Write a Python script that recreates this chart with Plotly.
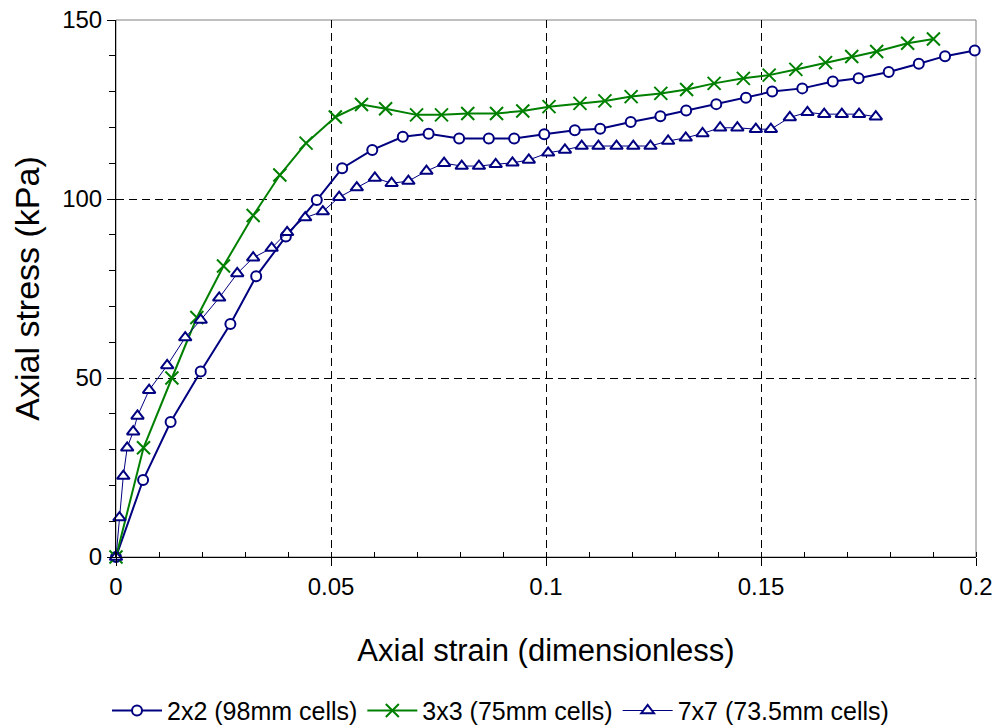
import plotly.graph_objects as go

# Axial strain / axial stress readings for the three cell configurations
strain_2x2 = [0, 0.0063, 0.0127, 0.0197, 0.0266, 0.0326, 0.0395, 0.0467, 0.0526, 0.0596,
              0.0667, 0.0727, 0.0798, 0.0867, 0.0926, 0.0996, 0.1067, 0.1126, 0.1197, 0.1266,
              0.1326, 0.1396, 0.1465, 0.1526, 0.1596, 0.1667, 0.1727, 0.1797, 0.1867, 0.1928, 0.1997]
stress_2x2 = [0, 21.5, 37.7, 51.8, 65.1, 78.4, 89.5, 99.7, 108.6, 113.7,
              117.4, 118.2, 116.9, 116.9, 116.9, 118.1, 119.2, 119.6, 121.5, 123.1,
              124.7, 126.5, 128.3, 130.0, 130.9, 132.8, 133.7, 135.5, 137.8, 139.9, 141.5]

strain_3x3 = [0, 0.0064, 0.0130, 0.0188, 0.0250, 0.0319, 0.0381, 0.0442, 0.0510, 0.0571,
              0.0627, 0.0699, 0.0757, 0.0818, 0.0885, 0.0946, 0.1007, 0.1079, 0.1137, 0.1198,
              0.1267, 0.1327, 0.1391, 0.1459, 0.1519, 0.1581, 0.1650, 0.1711, 0.1769, 0.1841, 0.1901]
stress_3x3 = [0, 30.5, 50.0, 66.9, 81.3, 95.4, 106.7, 115.6, 122.9, 126.4,
              125.2, 123.5, 123.5, 123.9, 123.9, 124.6, 125.8, 126.7, 127.4, 128.6,
              129.5, 130.6, 132.3, 133.7, 134.6, 136.2, 138.1, 139.8, 141.2, 143.5, 144.7]

strain_7x7 = [0, 0.0008, 0.0017, 0.0026, 0.0040, 0.0050, 0.0077, 0.0119, 0.0161, 0.0197,
              0.0240, 0.0282, 0.0319, 0.0362, 0.0398, 0.0440, 0.0481, 0.0519, 0.0560, 0.0602,
              0.0641, 0.0680, 0.0722, 0.0763, 0.0804, 0.0844, 0.0883, 0.0922, 0.0960, 0.1005,
              0.1044, 0.1083, 0.1122, 0.1164, 0.1203, 0.1243, 0.1284, 0.1325, 0.1364, 0.1405,
              0.1445, 0.1488, 0.1523, 0.1567, 0.1608, 0.1647, 0.1688, 0.1728, 0.1767]
stress_7x7 = [0, 11.0, 22.6, 30.5, 35.0, 39.4, 46.6, 53.5, 61.3, 66.2,
              72.4, 79.2, 83.6, 86.3, 90.7, 94.8, 96.5, 100.5, 103.2, 105.9,
              104.4, 105.0, 107.8, 110.0, 109.2, 109.2, 109.7, 110.1, 110.9, 112.9,
              113.7, 114.8, 114.8, 114.8, 114.8, 114.8, 116.2, 117.1, 118.3, 119.9,
              119.9, 119.5, 119.5, 122.8, 124.2, 123.7, 123.7, 123.7, 123.0]

x_ticks = [0, 0.05, 0.1, 0.15, 0.2]
x_tick_labels = ["0", "0.05", "0.1", "0.15", "0.2"]
y_ticks = [0, 50, 100, 150]

NAVY = "#000080"
GREEN = "#008000"
FONT = "Liberation Sans, Arial, sans-serif"

fig = go.Figure()

fig.add_trace(go.Scatter(
    x=strain_2x2, y=stress_2x2, mode="lines+markers", name="2x2 (98mm cells)",
    line=dict(color=NAVY, width=2),
    marker=dict(symbol="circle", size=10, color="white", line=dict(color=NAVY, width=2)),
    cliponaxis=False,
))
fig.add_trace(go.Scatter(
    x=strain_3x3, y=stress_3x3, mode="lines+markers", name="3x3 (75mm cells)",
    line=dict(color=GREEN, width=2),
    marker=dict(symbol="x-thin", size=13, color=GREEN, line=dict(color=GREEN, width=2)),
    cliponaxis=False,
))
fig.add_trace(go.Scatter(
    x=strain_7x7, y=stress_7x7, mode="lines+markers", name="7x7 (73.5mm cells)",
    line=dict(color=NAVY, width=1),
    marker=dict(symbol="triangle-up", size=11, color="white", line=dict(color=NAVY, width=2)),
    cliponaxis=False,
))

# Plot frame (top and right edges in grey)
fig.add_shape(type="rect", xref="paper", yref="paper", x0=0, y0=0, x1=1, y1=1,
              line=dict(color="#808080", width=1), layer="below")

fig.update_xaxes(
    range=[0, 0.2], tickvals=x_ticks, ticktext=x_tick_labels,
    showline=True, linecolor="black", linewidth=1,
    ticks="outside", ticklen=8, tickcolor="black",
    minor=dict(dtick=0.01, tick0=0, ticks="inside", ticklen=5, tickcolor="black", showgrid=False),
    showgrid=True, gridcolor="black", gridwidth=1, griddash="8px,5px",
    zeroline=False, automargin=False,
    tickfont=dict(family=FONT, size=24, color="black"),
    title=dict(text="Axial strain (dimensionless)", font=dict(family=FONT, size=31, color="black"),
               standoff=40),
)
fig.update_yaxes(
    range=[0, 150], tickvals=y_ticks,
    showline=True, linecolor="black", linewidth=1,
    ticks="outside", ticklen=8, tickcolor="black",
    minor=dict(dtick=10, tick0=0, ticks="outside", ticklen=6, tickcolor="black", showgrid=False),
    showgrid=True, gridcolor="black", gridwidth=1, griddash="8px,5px",
    zeroline=False, automargin=False,
    tickfont=dict(family=FONT, size=24, color="black"),
    title=dict(text="Axial stress (kPa)", font=dict(family=FONT, size=34, color="black"),
               standoff=12),
)

fig.update_layout(
    width=1001, height=726,
    margin=dict(l=116, r=25, t=20, b=169, autoexpand=False),
    plot_bgcolor="white", paper_bgcolor="white",
    font=dict(family=FONT, color="black"),
    showlegend=True,
    legend=dict(orientation="h", xref="container", yref="container",
                x=0.5, xanchor="center", y=0.021, yanchor="middle",
                font=dict(family=FONT, size=25, color="black"),
                itemwidth=50, tracegroupgap=0),
)

fig.write_html("out.html")
